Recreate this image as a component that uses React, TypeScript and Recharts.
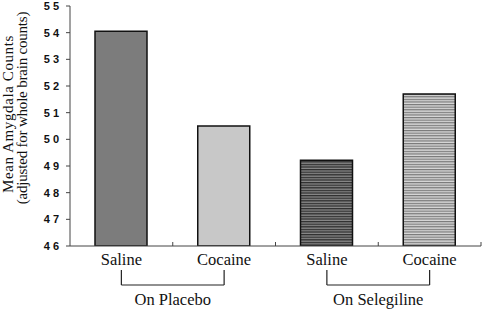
import { BarChart, Bar, XAxis, YAxis, Cell } from 'recharts';

const categories = ['Saline', 'Cocaine', 'Saline', 'Cocaine'];
const groups = ['On Placebo', 'On Placebo', 'On Selegiline', 'On Selegiline'];
const counts = [54.05, 50.5, 49.22, 51.7];
const yTicks = [46, 47, 48, 49, 50, 51, 52, 53, 54, 55];
const fills = ['#7c7c7c', '#c8c8c8', 'url(#stripeDark)', 'url(#stripeLight)'];

const chartData = categories.map((name, i) => ({ name, group: groups[i], value: counts[i] }));

const W = 483;
const H = 311;
const LEFT = 70;
const RIGHT = 2;
const BAND = (W - LEFT - RIGHT) / categories.length;
const serif = '"Liberation Serif", "Times New Roman", serif';

function CategoryTick(props: any) {
  const { x, y, payload } = props;
  const i = payload.index ?? props.index;
  return (
    <g>
      <line x1={x + BAND / 2} y1={y} x2={x + BAND / 2} y2={y - 4} stroke="#444" strokeWidth={1} />
      <text x={x} y={y + 19} textAnchor="middle" fontFamily={serif} fontSize={16.5} fill="#111">
        {payload.value}
      </text>
      <line x1={x} y1={y + 24} x2={x} y2={y + 39} stroke="#222" strokeWidth={1.2} />
      {i % 2 === 0 && (
        <g>
          <line x1={x} y1={y + 39} x2={x + BAND} y2={y + 39} stroke="#222" strokeWidth={1.2} />
          <text x={x + BAND / 2} y={y + 59} textAnchor="middle" fontFamily={serif} fontSize={16.5} fill="#111">
            {groups[i]}
          </text>
        </g>
      )}
    </g>
  );
}

function YLabel() {
  const x1 = 8;
  const y1 = 114;
  const x2 = 22;
  const y2 = 108;
  return (
    <g fontFamily={serif} fontSize={15} fill="#111">
      <text x={x1} y={y1} transform={`rotate(-90 ${x1} ${y1})`} textAnchor="middle" dominantBaseline="central" letterSpacing={0.6}>
        Mean Amygdala Counts
      </text>
      <text x={x2} y={y2} transform={`rotate(-90 ${x2} ${y2})`} textAnchor="middle" dominantBaseline="central" letterSpacing={-0.2}>
        (adjusted for whole brain counts)
      </text>
    </g>
  );
}

export default function App() {
  return (
    <div>
      <style>{'body{margin:0;background:#fff}'}</style>
      <BarChart width={W} height={H} data={chartData} margin={{ top: 6, right: RIGHT, left: 0, bottom: 0 }} barSize={52}>
        <defs>
          <pattern id="stripeDark" width="4" height="2.6" patternUnits="userSpaceOnUse">
            <rect width="4" height="2.6" fill="#8a8a8a" />
            <rect width="4" height="1.3" fill="#2e2e2e" />
          </pattern>
          <pattern id="stripeLight" width="4" height="2.6" patternUnits="userSpaceOnUse">
            <rect width="4" height="2.6" fill="#d8d8d8" />
            <rect width="4" height="1.2" fill="#777" />
          </pattern>
        </defs>
        <XAxis
          dataKey="name"
          height={65}
          tickLine={false}
          tickSize={0}
          tickMargin={0}
          axisLine={{ stroke: '#444' }}
          tick={<CategoryTick />}
          interval={0}
        />
        <YAxis
          width={LEFT}
          domain={[46, 55]}
          ticks={yTicks}
          interval={0}
          allowDataOverflow
          tickSize={4}
          tickMargin={7}
          axisLine={{ stroke: '#444' }}
          tickLine={{ stroke: '#444' }}
          tick={{ fontSize: 11, fontWeight: 'bold', fill: '#111', fontFamily: '"Liberation Sans", Arial, sans-serif' }}
          tickFormatter={(v: number) => String(v).split('').join(' ')}
          label={{ content: <YLabel /> }}
        />
        <Bar dataKey="value" stroke="#111" strokeWidth={1.5} isAnimationActive={false}>
          {chartData.map((d, i) => (
            <Cell key={i} fill={fills[i]} />
          ))}
        </Bar>
      </BarChart>
    </div>
  );
}
